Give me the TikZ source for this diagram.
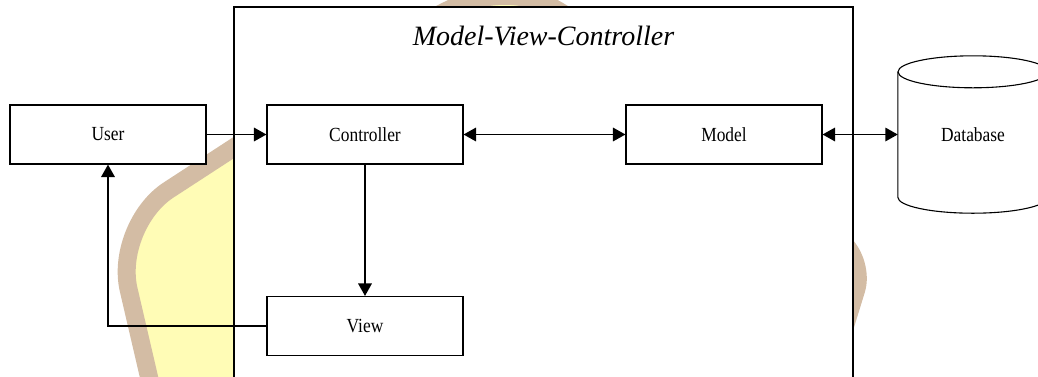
\documentclass[tikz,border=0pt]{standalone}
\usepackage{fontspec}
\setmainfont{Liberation Serif}
\newfontfamily\boxfont[FakeStretch=0.87]{Liberation Serif}
\usetikzlibrary{arrows.meta}

\definecolor{wmbrown}{RGB}{211,188,164}
\definecolor{wmyellow}{RGB}{255,252,182}

\begin{document}
\begin{tikzpicture}[x=1pt, y=-1pt,
	box/.style={draw, line width=1.1pt, fill=white, minimum width=196pt, minimum height=59pt, font=\boxfont\fontsize{20}{24}\selectfont},
	link/.style={line width=1.8pt, -{Triangle[length=12.5pt,width=13.5pt]}},
	both/.style={line width=1.8pt, {Triangle[length=12.5pt,width=13.5pt]}-{Triangle[length=12.5pt,width=13.5pt]}}]
	
	\useasboundingbox (0,0) rectangle (1038,376);
	\clip (0,0) rectangle (1038,376);
	\fill[white] (0,0) rectangle (1038,376);
	
	\draw[wmbrown, line width=18pt, fill=wmyellow]
		(159,420) -- (128.6,289.4) .. controls (120.6,254.5) and (138.4,209.9) .. (168.3,190.2)
		-- (426.7,22) .. controls (481.6,-13) and (530.9,-13) .. (574.7,22)
		-- (841.9,241.8) .. controls (854.6,252.4) and (861,273.9) .. (856.2,289.7)
		-- (816,420) -- cycle;
	
	\draw[line width=1.1pt, fill=white] (234,400) -- (234,7) -- (853,7) -- (853,400);
	\node[font=\fontsize{28}{32}\selectfont\itshape] (title) at (543.5,36) {Model-View-Controller};
	
	\node[box] (user) at (108,134.5) {User};
	\node[box] (ctrl) at (365,134.5) {Controller};
	\node[box] (model) at (724,134.5) {Model};
	\node[box] (view) at (365,326) {View};
	
	\node[minimum width=150pt, minimum height=125pt] (db) at (973,134.5) {};
	\draw[line width=1.1pt, fill=white] (db.north west) -- (db.south west)
		arc[start angle=180, end angle=360, x radius=75pt, y radius=16pt] -- (db.north east);
	\draw[line width=1.1pt, fill=white] (db.north) ellipse [x radius=75pt, y radius=16pt];
	\node[font=\boxfont\fontsize{20}{24}\selectfont] at (db) {Database};
	
	\draw[link] (user) -- (ctrl);
	\draw[both] (ctrl) -- (model);
	\draw[both] (model) -- (db);
	\draw[link] (ctrl) -- (view);
	\draw[link] (view) -| (user);
\end{tikzpicture}
\end{document}
